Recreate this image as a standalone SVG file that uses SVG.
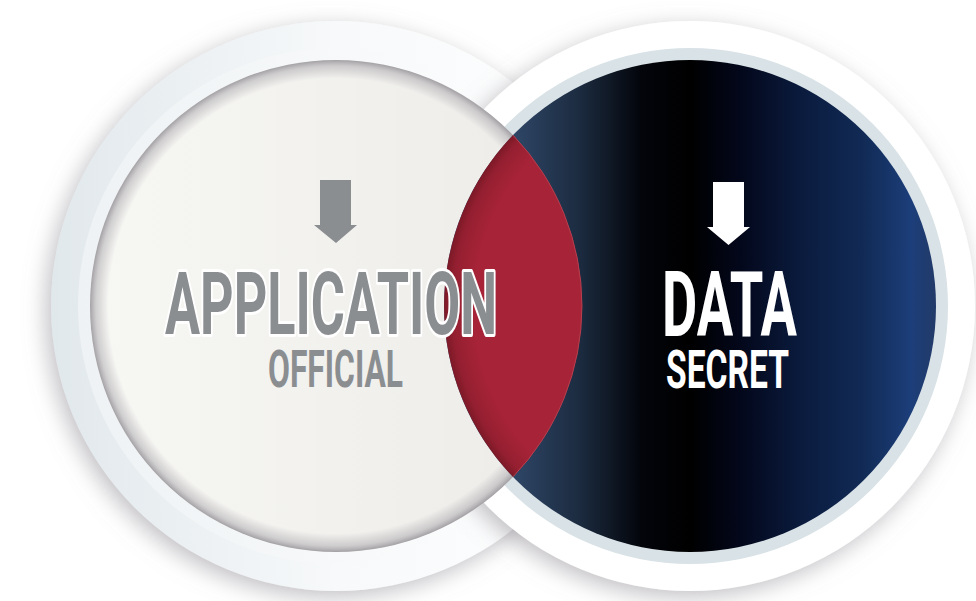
<svg xmlns="http://www.w3.org/2000/svg" width="976" height="601" viewBox="0 0 976 601">
  <defs>
    <filter id="shadow" x="-15%" y="-15%" width="130%" height="130%">
      <feGaussianBlur in="SourceAlpha" stdDeviation="11"/>
      <feOffset dx="-5" dy="6" result="b"/>
      <feFlood flood-color="#8f8b92" flood-opacity="0.55"/>
      <feComposite in2="b" operator="in"/>
      <feMerge><feMergeNode/><feMergeNode in="SourceGraphic"/></feMerge>
    </filter>
    <linearGradient id="ringL" gradientUnits="userSpaceOnUse" x1="51" y1="0" x2="621" y2="0">
      <stop offset="0" stop-color="#e1e8ec"/>
      <stop offset="0.5" stop-color="#f7f9fa"/>
      <stop offset="1" stop-color="#ffffff"/>
    </linearGradient>
    <linearGradient id="bandL" gradientUnits="userSpaceOnUse" x1="78" y1="0" x2="594" y2="0">
      <stop offset="0" stop-color="#eef2f4"/>
      <stop offset="1" stop-color="#ffffff"/>
    </linearGradient>
    <linearGradient id="faceL" gradientUnits="userSpaceOnUse" x1="90" y1="0" x2="582" y2="0">
      <stop offset="0" stop-color="#f7f7f4"/>
      <stop offset="1" stop-color="#ecebe8"/>
    </linearGradient>
    <radialGradient id="innerShadowL" gradientUnits="userSpaceOnUse" cx="336" cy="306" r="246">
      <stop offset="0.925" stop-color="#9f9ca1" stop-opacity="0"/>
      <stop offset="0.975" stop-color="#a3a0a5" stop-opacity="0.45"/>
      <stop offset="1" stop-color="#8f8c92" stop-opacity="0.8"/>
    </radialGradient>
    <linearGradient id="faceR" gradientUnits="userSpaceOnUse" x1="444" y1="0" x2="936" y2="0">
      <stop offset="0" stop-color="#3f5d84"/>
      <stop offset="0.15" stop-color="#2d4464"/>
      <stop offset="0.28" stop-color="#1b2a3e"/>
      <stop offset="0.40" stop-color="#03050b"/>
      <stop offset="0.50" stop-color="#000000"/>
      <stop offset="0.60" stop-color="#03071a"/>
      <stop offset="0.72" stop-color="#0a1a3c"/>
      <stop offset="0.85" stop-color="#112a55"/>
      <stop offset="0.95" stop-color="#1c3e7a"/>
      <stop offset="1" stop-color="#223a68"/>
    </linearGradient>
    <radialGradient id="lensFill" gradientUnits="userSpaceOnUse" cx="690" cy="306" r="246">
      <stop offset="0.88" stop-color="#a72337"/>
      <stop offset="0.965" stop-color="#941f30"/>
      <stop offset="1" stop-color="#7c1927"/>
    </radialGradient>
    <style>
      .cond { font-family: Roboto, "Liberation Sans", "DejaVu Sans", sans-serif; font-weight: 700; }
      .grey { fill: #8b8e91; }
      .white { fill: #ffffff; }
      .outlined { stroke: #ffffff; stroke-width: 6; stroke-linejoin: round; paint-order: stroke; }
    </style>
  </defs>

  <rect width="976" height="601" fill="#ffffff"/>

  <g id="left-ring" filter="url(#shadow)">
    <circle cx="336" cy="306" r="285" fill="url(#ringL)"/>
    <circle cx="336" cy="306" r="258" fill="url(#bandL)"/>
  </g>

  <g id="right-ring" filter="url(#shadow)">
    <circle cx="690" cy="306" r="285" fill="#ffffff"/>
    <circle cx="690" cy="306" r="258" fill="#d9e2e6"/>
  </g>

  <g id="left-circle">
    <circle cx="336" cy="306" r="246" fill="url(#faceL)"/>
    <circle cx="336" cy="306" r="246" fill="url(#innerShadowL)"/>
  </g>

  <g id="right-circle">
    <circle cx="690" cy="306" r="246" fill="url(#faceR)"/>
  </g>

  <g id="overlap">
    <path d="M513,135.2 A246,246 0 0,1 513,476.8 A246,246 0 0,1 513,135.2 Z" fill="url(#lensFill)"/>
    <path d="M513,135.2 A246,246 0 0,1 513,476.8" fill="none" stroke="#b8404f" stroke-width="1"/>
  </g>

  <g id="label-application">
    <polygon class="grey" points="320,180 351,180 351,225 357,225 336,243 314,225 320,225"/>
    <text class="cond grey outlined" x="165" y="334" font-size="88" textLength="332" lengthAdjust="spacingAndGlyphs">APPLICATION</text>
    <text class="cond grey" x="268" y="387" font-size="52" textLength="135" lengthAdjust="spacingAndGlyphs">OFFICIAL</text>
  </g>

  <g id="label-data">
    <polygon class="white" points="713,182 744,182 744,227 750,227 728.5,245 707,227 713,227"/>
    <text class="cond white" x="662" y="336" font-size="90" textLength="135" lengthAdjust="spacingAndGlyphs">DATA</text>
    <text class="cond white" x="666" y="388" font-size="53" textLength="123" lengthAdjust="spacingAndGlyphs">SECRET</text>
  </g>
</svg>
